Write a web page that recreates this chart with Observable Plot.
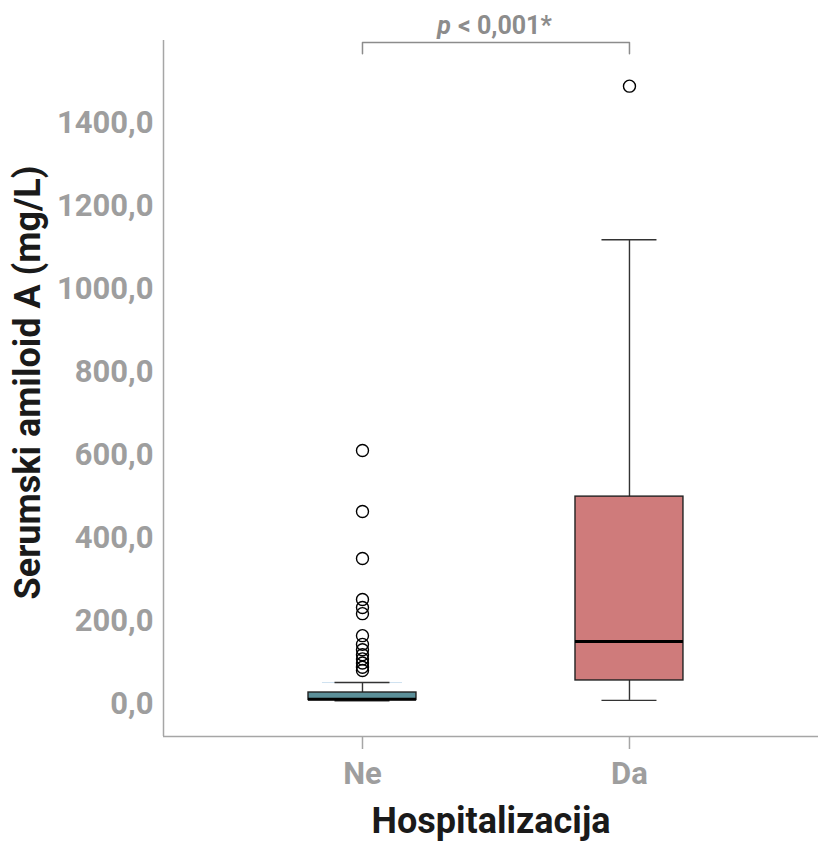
<!DOCTYPE html>
<html>
<head>
<meta charset="utf-8">
<script src="https://cdn.jsdelivr.net/npm/d3@7"></script>
<script src="https://cdn.jsdelivr.net/npm/@observablehq/plot@0.6"></script>
<style>
  html, body { margin: 0; padding: 0; background: #fff; }
  #chart svg { font-family: Roboto, "Noto Sans", sans-serif; }
</style>
</head>
<body>
<div id="chart"></div>
<script>
// Serum amyloid A by hospitalization status (box summaries + outliers)
const groups = ["Ne", "Da"];
const whiskerLow = [9, 10];
const q1 = [11, 58];
const median = [13, 152];
const q3 = [29, 501];
const whiskerHigh = [53, 1120];
const boxFill = ["#5b8f99", "#cf7b7b"];
const outliersNe = [612, 465, 352, 253, 234, 219, 166, 145, 132, 120, 110, 100, 90, 82];
const outliersDa = [1490];
const yTicks = [0, 200, 400, 600, 800, 1000, 1200, 1400];
const pLabel = "< 0,001*";

const xDomain = [0.2547, 2.708];
const yDomain = [-77, 1600];
const boxHalf = 0.2022;
const capHalf = 0.103;

const boxes = groups.map((g, i) => ({
  group: g, pos: i + 1,
  lo: whiskerLow[i], q1: q1[i], med: median[i], q3: q3[i], hi: whiskerHigh[i],
  fill: boxFill[i]
}));
const outliers = [
  ...outliersNe.map(v => ({pos: 1, value: v})),
  ...outliersDa.map(v => ({pos: 2, value: v}))
];
const bracketY = 1595, bracketDrop = 1568;
const bracketPath = [
  {x: 1, y: bracketDrop}, {x: 1, y: bracketY}, {x: 2, y: bracketY}, {x: 2, y: bracketDrop}
];
const fmt = d => d.toFixed(1).replace(".", ",");
const axisGray = "#a6a6a6";
const labelGray = "#9e9e9e";

const chart = Plot.plot({
  width: 818,
  height: 842,
  marginLeft: 163,
  marginRight: 0,
  marginTop: 40,
  marginBottom: 106,
  style: {fontFamily: "Roboto, 'Noto Sans', sans-serif", background: "#fff"},
  x: {type: "linear", domain: xDomain},
  y: {type: "linear", domain: yDomain},
  marks: [
    // axis lines
    Plot.ruleX([xDomain[0]], {stroke: axisGray, strokeWidth: 1.5}),
    Plot.ruleY([yDomain[0]], {stroke: axisGray, strokeWidth: 1.5}),
    Plot.axisY({
      ticks: yTicks, tickFormat: fmt, tickSize: 0, tickPadding: 10,
      fontSize: 31, fontWeight: "bold", fill: labelGray, label: null
    }),
    Plot.axisX({
      ticks: [1, 2], tickFormat: d => groups[d - 1], tickSize: 13, tickPadding: 12,
      fontSize: 31, fontWeight: "bold", fill: labelGray, stroke: axisGray, strokeWidth: 1.5, label: null
    }),
    // whiskers
    Plot.ruleX(boxes, {x: "pos", y1: "q3", y2: "hi", stroke: "#333", strokeWidth: 1.4}),
    Plot.ruleX(boxes, {x: "pos", y1: "lo", y2: "q1", stroke: "#333", strokeWidth: 1.4}),
    Plot.ruleY(boxes.filter(d => d.group === "Ne"), {y: "hi", x1: d => d.pos - 0.15, x2: d => d.pos + 0.15, stroke: "#cfe2f0", strokeWidth: 1}),
    Plot.ruleY(boxes, {y: "hi", x1: d => d.pos - capHalf, x2: d => d.pos + capHalf, stroke: "#333", strokeWidth: 1.4}),
    Plot.ruleY(boxes, {y: "lo", x1: d => d.pos - capHalf, x2: d => d.pos + capHalf, stroke: "#333", strokeWidth: 1.4}),
    // boxes
    Plot.rect(boxes, {x1: d => d.pos - boxHalf, x2: d => d.pos + boxHalf, y1: "q1", y2: "q3", fill: "fill", stroke: "#222", strokeWidth: 1.4}),
    Plot.ruleY(boxes, {y: "med", x1: d => d.pos - boxHalf, x2: d => d.pos + boxHalf, stroke: "#000", strokeWidth: 3}),
    // outliers
    Plot.dot(outliers, {x: "pos", y: "value", r: 6, stroke: "#000", strokeWidth: 1.4, fill: "none"}),
    // significance bracket
    Plot.line(bracketPath, {x: "x", y: "y", stroke: "#8c8c8c", strokeWidth: 1.5}),
    Plot.text([{x: 1.5, y: bracketY}], {x: "x", y: "y", text: () => "p", fontStyle: "italic", fontWeight: "bold", fontSize: 25, fill: "#8c8c8c", textAnchor: "end", dx: -45, dy: -17}),
    Plot.text([{x: 1.5, y: bracketY}], {x: "x", y: "y", text: () => pLabel, fontWeight: "bold", fontSize: 25, fill: "#8c8c8c", textAnchor: "start", dx: -38, dy: -17}),
    // axis titles
    Plot.text(["Serumski amiloid A (mg/L)"], {frameAnchor: "left", rotate: -90, dx: -135, dy: -6, textAnchor: "middle", lineAnchor: "middle", fontSize: 36, fontWeight: "bold", fill: "#1a1a1a"}),
    Plot.text(["Hospitalizacija"], {frameAnchor: "bottom", dy: 85, textAnchor: "middle", lineAnchor: "middle", fontSize: 36, fontWeight: "bold", fill: "#1a1a1a"})
  ]
});
document.getElementById("chart").appendChild(chart);
</script>
</body>
</html>
